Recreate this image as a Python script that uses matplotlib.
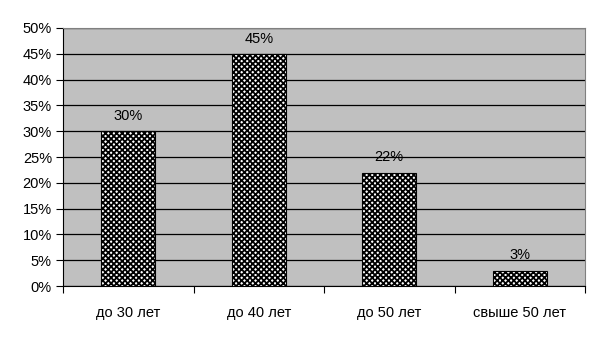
import matplotlib
matplotlib.use("Agg")
from matplotlib import pyplot as plt
import numpy as np

categories = ["до 30 лет", "до 40 лет", "до 50 лет", "свыше 50 лет"]
values = [30, 45, 22, 3]
labels = ["30%", "45%", "22%", "3%"]

plt.rcParams['font.family'] = ['Liberation Sans', 'DejaVu Sans']
plt.rcParams['hatch.linewidth'] = 1.3

fig = plt.figure(figsize=(6, 3.37), dpi=100)
ax = fig.add_axes([0.105, 0.151, 0.87, 0.766])
ax.set_facecolor('#c0c0c0')

x = np.arange(len(categories))
bars = ax.bar(x, values, width=0.41, color='white', edgecolor='black',
              hatch='xxxxxx', linewidth=0.8, zorder=3)

for xi, v, lab in zip(x, values, labels):
    ax.text(xi, v + 1.6, lab, ha='center', va='bottom', fontsize=10.5, zorder=4)

ax.set_xlim(-0.5, 3.5)
ax.set_ylim(0, 50)
ax.set_yticks(np.arange(0, 51, 5))
ax.set_yticklabels([f"{t}%" for t in range(0, 51, 5)], fontsize=10.5)
ax.yaxis.grid(True, color='black', linewidth=0.9, zorder=1)
ax.set_axisbelow(True)

ax.set_xticks([-0.5, 0.5, 1.5, 2.5, 3.5])
ax.set_xticklabels([])
ax.set_xticks(x, minor=True)
ax.set_xticklabels(categories, minor=True, fontsize=10.5)
ax.tick_params(axis='x', which='minor', length=0, pad=14)
ax.tick_params(axis='x', which='major', length=5, direction='out')
ax.tick_params(axis='y', length=5, direction='out', pad=3)

ax.spines['top'].set_color('#808080')
ax.spines['right'].set_color('#808080')
ax.spines['left'].set_color('black')
ax.spines['bottom'].set_color('black')

fig.savefig('out.png', dpi=100)
